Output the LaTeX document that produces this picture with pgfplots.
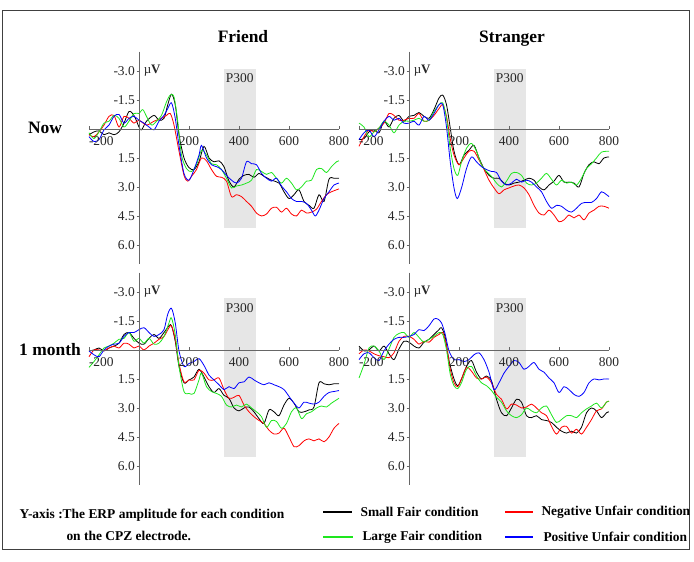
\documentclass[border=0pt]{standalone}
\usepackage{pgfplots}
\pgfplotsset{compat=1.18}
\usepackage{fontspec}
\setmainfont{Liberation Serif}
\definecolor{cgreen}{RGB}{30,230,30}
\definecolor{cblue}{RGB}{0,0,255}
\definecolor{cred}{RGB}{255,0,0}
\definecolor{p3box}{RGB}{230,230,230}
\pgfplotsset{
  erp/.style={
    width=250bp, height=212.7bp, scale only axis,
    xmin=-200, xmax=800, ymin=-4, ymax=7, y dir=reverse,
    axis lines=middle, axis on top,
    axis line style={-, draw=black!60, line width=0.7bp},
    xtick={-200,200,400,600,800},
    xticklabels={\rlap{-200},200,400,600,800},
    ytick={-3,-1.5,1.5,3,4.5,6},
    yticklabels={-3.0,-1.5,1.5,3.0,4.5,6.0},
    tick align=outside, major tick length=2.5bp,
    tick style={draw=black!60, line width=0.6bp},
    ticklabel style={font=\fontsize{13.5}{14}\selectfont, text=black!85},
    xticklabel style={inner sep=1.5bp, yshift=-3bp},
    yticklabel style={inner sep=1.5bp},
    clip=false,
    every axis plot/.append style={line width=0.8bp, smooth, tension=0.5, no markers},
  }
}
\begin{document}
\begin{tikzpicture}
\useasboundingbox (0,0) rectangle (694bp,562bp);
\draw[black!75, line width=1bp] (2bp,12bp) rectangle (689bp,551bp);
% titles
\node[font=\fontsize{17.5}{20}\selectfont\bfseries, anchor=base] at (243bp,519bp) {Friend};
\node[font=\fontsize{17.5}{20}\selectfont\bfseries, anchor=base] at (512bp,519bp) {Stranger};
\node[font=\fontsize{17.5}{20}\selectfont\bfseries, anchor=base] at (45bp,428bp) {Now};
\node[font=\fontsize{17.5}{20}\selectfont\bfseries, anchor=base] at (50bp,206bp) {1 month};

% ---------- Panel 1: Friend, Now ----------
\begin{axis}[erp, at={(89bp,297.7bp)}, anchor=south west]
\fill[p3box] (axis cs:340,-3.1) rectangle (axis cs:467,5.14);
\node[font=\fontsize{13.5}{14}\selectfont, text=black!85] at (axis cs:403,-2.62) {P300};
\node[font=\fontsize{13}{14}\selectfont, anchor=west, text=black!85] at (axis cs:5,-3.0) {µ\textbf{V}};
\addplot[black] coordinates {(-200,0.3)(-180,0.15)(-160,0.1)(-140,0.3)(-120,0.2)(-100,0.3)(-80,0.15)(-60,-0.3)(-40,-0.9)(-20,-0.7)(0,-0.1)(10,0.05)(30,-0.4)(60,-0.7)(80,-0.45)(100,-0.55)(115,-1.25)(130,-1.8)(145,-1.25)(160,0.3)(180,1.5)(200,2.0)(220,2.1)(240,1.7)(260,0.9)(280,1.5)(300,1.7)(320,1.65)(340,1.95)(360,2.7)(380,3.0)(400,2.6)(420,2.4)(440,2.35)(460,2.5)(480,2.3)(500,2.45)(530,2.65)(560,2.8)(580,3.25)(600,3.6)(620,3.4)(640,3.15)(660,3.75)(680,3.95)(700,4.1)(720,3.4)(740,3.75)(760,2.6)(780,2.55)(800,2.55)};
\addplot[cred] coordinates {(-200,0.3)(-180,0.4)(-160,0.15)(-140,-0.2)(-120,-0.65)(-100,-0.7)(-80,-0.1)(-60,-0.65)(-40,-0.55)(-20,-0.3)(0,-0.45)(30,-0.2)(60,-0.4)(90,-0.55)(110,-0.7)(125,-0.8)(140,-0.2)(160,1.15)(180,2.4)(195,2.7)(210,2.45)(230,2.1)(250,1.5)(270,1.65)(290,2.1)(310,2.45)(330,2.5)(350,2.7)(370,3.5)(390,3.4)(410,3.5)(430,3.75)(450,4.0)(470,4.35)(490,4.5)(510,4.4)(530,4.1)(550,4.05)(570,4.3)(590,4.1)(610,4.4)(630,4.5)(650,4.2)(670,4.35)(690,4.3)(710,4.15)(730,3.75)(750,3.4)(770,3.25)(800,3.1)};
\addplot[cgreen] coordinates {(-200,0.2)(-180,0.5)(-160,0.15)(-140,-0.3)(-120,-0.4)(-100,-0.7)(-80,-0.55)(-60,-0.1)(-40,-0.4)(-20,-0.8)(0,-0.8)(15,-1.0)(30,-0.65)(50,-0.2)(70,-0.4)(90,-0.7)(110,-1.4)(125,-1.75)(140,-1.65)(155,-0.4)(170,1.35)(190,2.05)(210,2.2)(230,1.85)(250,1.1)(270,1.35)(290,1.8)(310,1.85)(330,2.1)(350,2.55)(370,3.05)(390,2.95)(410,2.9)(430,2.8)(450,2.65)(470,2.1)(490,2.2)(510,2.35)(530,2.25)(550,2.55)(570,2.8)(590,2.55)(610,2.8)(630,3.15)(650,3.0)(670,2.7)(690,2.65)(710,2.1)(730,2.05)(750,2.25)(770,1.95)(790,1.7)(800,1.65)};
\addplot[cblue] coordinates {(-200,0.4)(-180,0.65)(-160,0.55)(-140,0.05)(-120,-0.2)(-100,-0.65)(-80,-0.75)(-60,-0.3)(-40,-0.55)(-20,-0.65)(0,-0.45)(20,-0.3)(40,-0.1)(60,0.05)(80,-0.4)(100,-0.7)(115,-1.05)(130,-1.35)(145,-0.55)(160,0.85)(180,2.3)(200,2.65)(220,2.1)(240,1.35)(250,0.85)(270,1.5)(290,1.85)(310,1.95)(330,2.1)(350,2.4)(370,2.65)(390,2.8)(410,2.55)(430,1.7)(450,1.8)(470,1.85)(490,2.3)(510,2.55)(530,2.7)(550,2.55)(570,2.95)(590,3.25)(610,3.6)(630,3.75)(650,3.75)(670,3.85)(690,4.2)(705,4.5)(720,4.2)(740,3.6)(760,3.25)(780,2.9)(800,2.8)};
\end{axis}

% ---------- Panel 2: Stranger, Now ----------
\begin{axis}[erp, at={(359bp,297.7bp)}, anchor=south west]
\fill[p3box] (axis cs:340,-3.1) rectangle (axis cs:467,5.14);
\node[font=\fontsize{13.5}{14}\selectfont, text=black!85] at (axis cs:403,-2.62) {P300};
\node[font=\fontsize{13}{14}\selectfont, anchor=west, text=black!85] at (axis cs:5,-3.0) {µ\textbf{V}};
\addplot[black] coordinates {(-200,0.55)(-180,0.5)(-160,0.15)(-140,0.05)(-120,0.2)(-100,-0.4)(-80,-0.1)(-60,-0.55)(-40,-0.7)(-20,-0.4)(0,-0.65)(20,-0.7)(40,-0.85)(60,-0.65)(80,-0.55)(100,-1.0)(120,-1.6)(135,-1.75)(150,-1.25)(165,-0.05)(180,1.15)(200,1.85)(220,1.35)(240,1.1)(260,0.85)(280,1.5)(300,2.05)(320,2.4)(340,2.55)(360,2.55)(380,2.8)(400,2.9)(420,2.8)(440,2.75)(460,2.65)(480,2.55)(500,2.65)(520,3.0)(540,3.15)(560,2.9)(580,2.7)(600,2.4)(620,2.75)(640,2.75)(660,2.8)(680,3.0)(700,2.3)(720,1.85)(740,1.7)(760,1.8)(780,1.5)(800,1.45)};
\addplot[cred] coordinates {(-200,0.9)(-180,0.4)(-160,0.05)(-140,0.15)(-120,-0.05)(-100,-0.3)(-80,-0.8)(-60,-0.7)(-40,-0.45)(-20,-0.45)(0,-0.55)(20,-0.55)(40,-0.8)(60,-0.4)(80,-0.45)(100,-0.7)(120,-1.05)(135,-1.25)(150,-0.65)(165,0.5)(180,1.35)(200,1.85)(220,1.5)(240,1.15)(260,1.15)(280,1.6)(300,2.1)(320,2.65)(340,3.05)(360,3.35)(380,3.15)(400,3.05)(420,2.95)(440,2.9)(460,3.05)(480,3.4)(500,3.95)(520,4.35)(540,4.45)(560,4.2)(580,4.45)(600,4.8)(620,4.7)(640,4.45)(660,4.6)(680,4.45)(700,4.7)(720,4.35)(740,4.2)(760,4.0)(780,4.0)(800,4.1)};
\addplot[cgreen] coordinates {(-200,-0.3)(-180,-0.1)(-160,0.4)(-140,0.15)(-120,-0.05)(-100,-0.4)(-80,-0.2)(-60,0.2)(-40,-0.2)(-20,-0.4)(0,-0.4)(20,-0.45)(40,-0.55)(60,-0.4)(80,-0.45)(100,-0.9)(120,-1.25)(135,-1.35)(150,-0.55)(165,1.0)(180,2.05)(195,2.4)(210,1.7)(230,1.0)(250,0.75)(270,1.15)(290,1.85)(310,2.2)(330,2.45)(350,2.8)(370,3.0)(390,2.7)(410,2.3)(430,2.25)(450,2.4)(470,2.8)(490,2.9)(510,2.8)(530,2.55)(550,2.3)(570,2.6)(590,2.9)(610,2.65)(630,2.8)(650,2.75)(670,2.9)(690,2.55)(710,2.05)(730,1.8)(750,1.5)(770,1.2)(800,1.15)};
\addplot[cblue] coordinates {(-200,0.55)(-180,0.2)(-160,0.05)(-140,0.4)(-120,0.05)(-100,-0.4)(-80,-0.65)(-60,-0.45)(-40,-0.55)(-20,-0.3)(0,-0.3)(20,-0.4)(40,-0.2)(60,-0.65)(80,-0.45)(100,-0.8)(120,-1.25)(135,-1.25)(150,-0.1)(165,1.7)(180,3.05)(193,3.6)(210,3.05)(230,2.05)(250,1.45)(270,1.7)(290,1.95)(310,2.1)(330,2.2)(350,2.25)(370,2.7)(390,2.9)(410,2.8)(430,2.6)(450,2.75)(470,2.65)(490,2.75)(510,3.0)(530,3.25)(550,3.75)(570,4.1)(590,3.95)(610,4.0)(630,4.2)(650,4.3)(670,4.1)(690,3.85)(710,3.8)(730,3.8)(750,3.6)(770,3.25)(790,3.4)(800,3.5)};
\end{axis}

% ---------- Panel 3: Friend, 1 month ----------
\begin{axis}[erp, at={(89bp,76.7bp)}, anchor=south west]
\fill[p3box] (axis cs:340,-2.68) rectangle (axis cs:467,5.55);
\node[font=\fontsize{13.5}{14}\selectfont, text=black!85] at (axis cs:403,-2.16) {P300};
\node[font=\fontsize{13}{14}\selectfont, anchor=west, text=black!85] at (axis cs:5,-3.0) {µ\textbf{V}};
\addplot[black] coordinates {(-200,0.05)(-180,0)(-160,-0.1)(-140,0.05)(-120,-0.1)(-100,-0.2)(-80,-0.35)(-60,-0.8)(-40,-0.9)(-20,-0.6)(0,-0.35)(20,-0.3)(40,-0.6)(60,-0.8)(80,-0.6)(100,-0.9)(120,-1.25)(130,-1.25)(145,-0.45)(160,0.85)(180,1.7)(200,1.55)(220,1.4)(240,1.0)(260,1.4)(280,1.9)(300,2.2)(320,2.0)(340,2.35)(360,2.5)(380,3.0)(400,3.15)(420,3.0)(440,2.95)(460,3.2)(480,3.55)(500,3.8)(520,3.1)(540,3.2)(560,3.4)(580,2.85)(600,2.5)(620,2.75)(640,3.2)(660,3.2)(680,3.1)(700,2.95)(720,1.7)(740,1.75)(760,1.8)(780,1.75)(800,1.75)};
\addplot[cred] coordinates {(-200,0.35)(-180,0)(-160,0)(-140,0.05)(-120,-0.1)(-100,-0.2)(-80,-0.1)(-60,-0.35)(-40,-0.3)(-20,-0.1)(0,-0.2)(20,0)(40,-0.2)(60,-0.35)(80,-0.55)(100,-0.7)(120,-1.15)(130,-1.25)(145,-0.55)(160,0.7)(180,1.65)(200,1.55)(220,1.55)(240,1.05)(260,1.2)(280,1.55)(300,1.55)(320,1.45)(340,2.05)(360,2.5)(380,2.45)(400,2.35)(420,2.85)(440,3.2)(460,3.45)(480,3.65)(500,3.8)(520,4.15)(540,4.35)(560,4.3)(580,4.05)(600,4.5)(620,5.0)(640,4.95)(660,4.7)(680,4.6)(700,4.7)(720,4.6)(740,4.75)(760,4.5)(780,4.05)(800,3.8)};
\addplot[cgreen] coordinates {(-200,0.9)(-180,0.6)(-160,0.25)(-140,-0.1)(-120,-0.2)(-100,-0.35)(-80,-0.55)(-60,-0.6)(-40,-0.9)(-20,-0.45)(0,-0.6)(20,-0.35)(40,-0.6)(60,-0.3)(80,-0.35)(100,-0.7)(120,-1.4)(130,-1.65)(145,-0.8)(160,0.85)(180,2.15)(200,2.25)(220,2.25)(240,1.55)(250,1.2)(270,1.9)(290,2.15)(310,2.25)(330,2.4)(350,2.85)(370,2.95)(390,2.85)(410,2.95)(430,2.8)(450,3.0)(470,3.2)(490,3.45)(510,4.0)(530,3.65)(550,3.7)(570,4.05)(590,3.8)(610,3.2)(630,3.0)(650,3.55)(670,3.3)(690,3.2)(710,3.0)(730,2.9)(750,2.95)(770,2.75)(800,2.5)};
\addplot[cblue] coordinates {(-200,0.05)(-180,0.25)(-160,0.35)(-140,0)(-120,-0.2)(-100,-0.3)(-80,-0.35)(-60,-0.7)(-40,-0.9)(-20,-0.9)(0,-1.05)(20,-1.15)(40,-0.9)(60,-0.7)(80,-0.8)(100,-1.05)(115,-1.85)(130,-2.15)(145,-1.4)(160,0.05)(180,0.85)(200,0.7)(220,0.6)(240,0.45)(260,0.8)(280,1.3)(300,1.55)(320,1.8)(340,2.05)(360,1.9)(380,2.0)(400,1.7)(420,1.65)(440,1.4)(460,1.55)(480,1.7)(500,1.8)(520,1.7)(540,1.8)(560,1.9)(580,2.05)(600,2.4)(620,2.75)(640,3.0)(660,2.7)(680,2.75)(700,2.8)(720,2.7)(740,2.4)(760,2.2)(780,2.15)(800,2.1)};
\end{axis}

% ---------- Panel 4: Stranger, 1 month ----------
\begin{axis}[erp, at={(359bp,76.7bp)}, anchor=south west]
\fill[p3box] (axis cs:340,-2.67) rectangle (axis cs:467,5.52);
\node[font=\fontsize{13.5}{14}\selectfont, text=black!85] at (axis cs:403,-2.16) {P300};
\node[font=\fontsize{13}{14}\selectfont, anchor=west, text=black!85] at (axis cs:5,-3.0) {µ\textbf{V}};
\addplot[black] coordinates {(-200,-0.2)(-180,0.05)(-160,0)(-140,-0.2)(-120,0.05)(-100,-0.2)(-80,0.2)(-60,0.5)(-40,-0.05)(-20,-0.45)(0,-0.4)(20,-0.2)(40,-0.1)(60,-0.4)(80,-0.55)(100,-0.8)(120,-1.05)(130,-1.15)(145,-0.65)(160,0.55)(180,1.5)(195,1.85)(210,1.5)(230,0.85)(250,0.55)(270,1.15)(290,1.5)(310,1.35)(330,1.6)(350,2.55)(370,3.25)(390,3.4)(410,3.0)(430,2.55)(450,2.7)(470,3.4)(490,3.5)(510,3.4)(530,3.6)(550,3.65)(570,3.75)(590,4.0)(610,4.2)(630,4.3)(650,4.2)(670,4.3)(690,4.0)(710,3.25)(730,3.0)(750,3.15)(770,3.5)(790,3.25)(800,3.2)};
\addplot[cred] coordinates {(-200,0.2)(-180,0)(-160,0.05)(-140,0.2)(-120,0.3)(-100,0.35)(-80,0.4)(-60,0.15)(-40,-0.45)(-20,-0.7)(0,-0.7)(20,-0.55)(40,-0.3)(60,-0.45)(80,-0.4)(100,-0.65)(120,-0.8)(135,-0.9)(150,-0.2)(165,1.0)(180,1.7)(195,1.9)(210,1.5)(230,0.9)(250,1.1)(270,1.45)(290,1.5)(310,1.4)(330,1.7)(350,2.3)(370,2.55)(390,3.05)(410,2.8)(430,2.85)(450,3.0)(470,2.95)(490,2.8)(510,3.0)(530,3.25)(550,3.4)(570,3.95)(590,4.35)(610,4.0)(630,3.95)(650,4.3)(670,4.1)(690,4.35)(710,4.0)(730,3.6)(750,3.15)(770,3.05)(790,2.7)(800,2.65)};
\addplot[cgreen] coordinates {(-200,1.45)(-180,0.75)(-160,-0.1)(-140,-0.2)(-120,0.05)(-100,0.5)(-80,-0.05)(-60,-0.65)(-40,-0.85)(-20,-0.9)(0,-0.65)(20,-0.9)(40,-0.65)(60,-0.4)(80,-0.55)(100,-0.7)(120,-0.9)(135,-0.8)(150,0)(165,1.25)(180,1.85)(195,2.0)(210,1.7)(230,1.0)(250,0.85)(270,1.35)(290,1.7)(310,1.85)(330,2.1)(350,2.45)(370,2.7)(390,3.15)(410,3.4)(430,3.5)(450,3.35)(470,3.0)(490,3.15)(510,3.25)(530,3.0)(550,2.9)(570,3.35)(590,3.75)(610,3.6)(630,3.4)(650,3.4)(670,3.5)(690,3.25)(710,3.05)(730,2.9)(750,2.75)(770,3.0)(790,2.7)(800,2.65)};
\addplot[cblue] coordinates {(-200,0.5)(-180,0.2)(-160,0.15)(-140,0.4)(-120,0.55)(-100,0.05)(-80,-0.3)(-60,-0.55)(-40,-0.65)(-20,-0.65)(0,-0.7)(20,-0.8)(40,-1.05)(60,-1.0)(80,-1.25)(100,-1.6)(115,-1.6)(130,-1.4)(145,-0.8)(160,0.05)(180,0.5)(200,0.5)(220,0.6)(240,0.5)(260,0.25)(280,0.15)(300,0.5)(320,1.15)(340,2.05)(360,1.7)(380,1.2)(400,0.85)(420,0.55)(440,0.65)(460,1.0)(480,0.85)(500,0.65)(520,1.0)(540,1.15)(560,1.45)(580,1.7)(600,2.2)(620,1.9)(640,2.05)(660,2.3)(680,2.4)(700,2.2)(720,1.7)(740,1.5)(760,1.55)(780,1.5)(800,1.5)};
\end{axis}

% ---------- legend / note ----------
\begin{scope}[font=\fontsize{13.5}{15}\selectfont\bfseries]
\node[anchor=west] at (16bp,47bp) {Y-axis :The ERP amplitude for each condition};
\node[anchor=west] at (63bp,26bp) {on the CPZ electrode.};
\draw[black, line width=1.2bp] (323bp,50bp) -- (352bp,50bp);
\node[anchor=west] at (357bp,50bp) {Small Fair condition};
\draw[red, line width=1.2bp] (505bp,50bp) -- (533bp,50bp);
\node[anchor=west] at (538bp,50bp) {Negative Unfair condition};
\draw[cgreen, line width=1.2bp] (323bp,25bp) -- (353bp,25bp);
\node[anchor=west] at (359bp,25bp) {Large Fair condition};
\draw[cblue, line width=1.2bp] (505bp,25bp) -- (533bp,25bp);
\node[anchor=west] at (540bp,25bp) {Positive Unfair condition};
\end{scope}
\end{tikzpicture}
\end{document}
